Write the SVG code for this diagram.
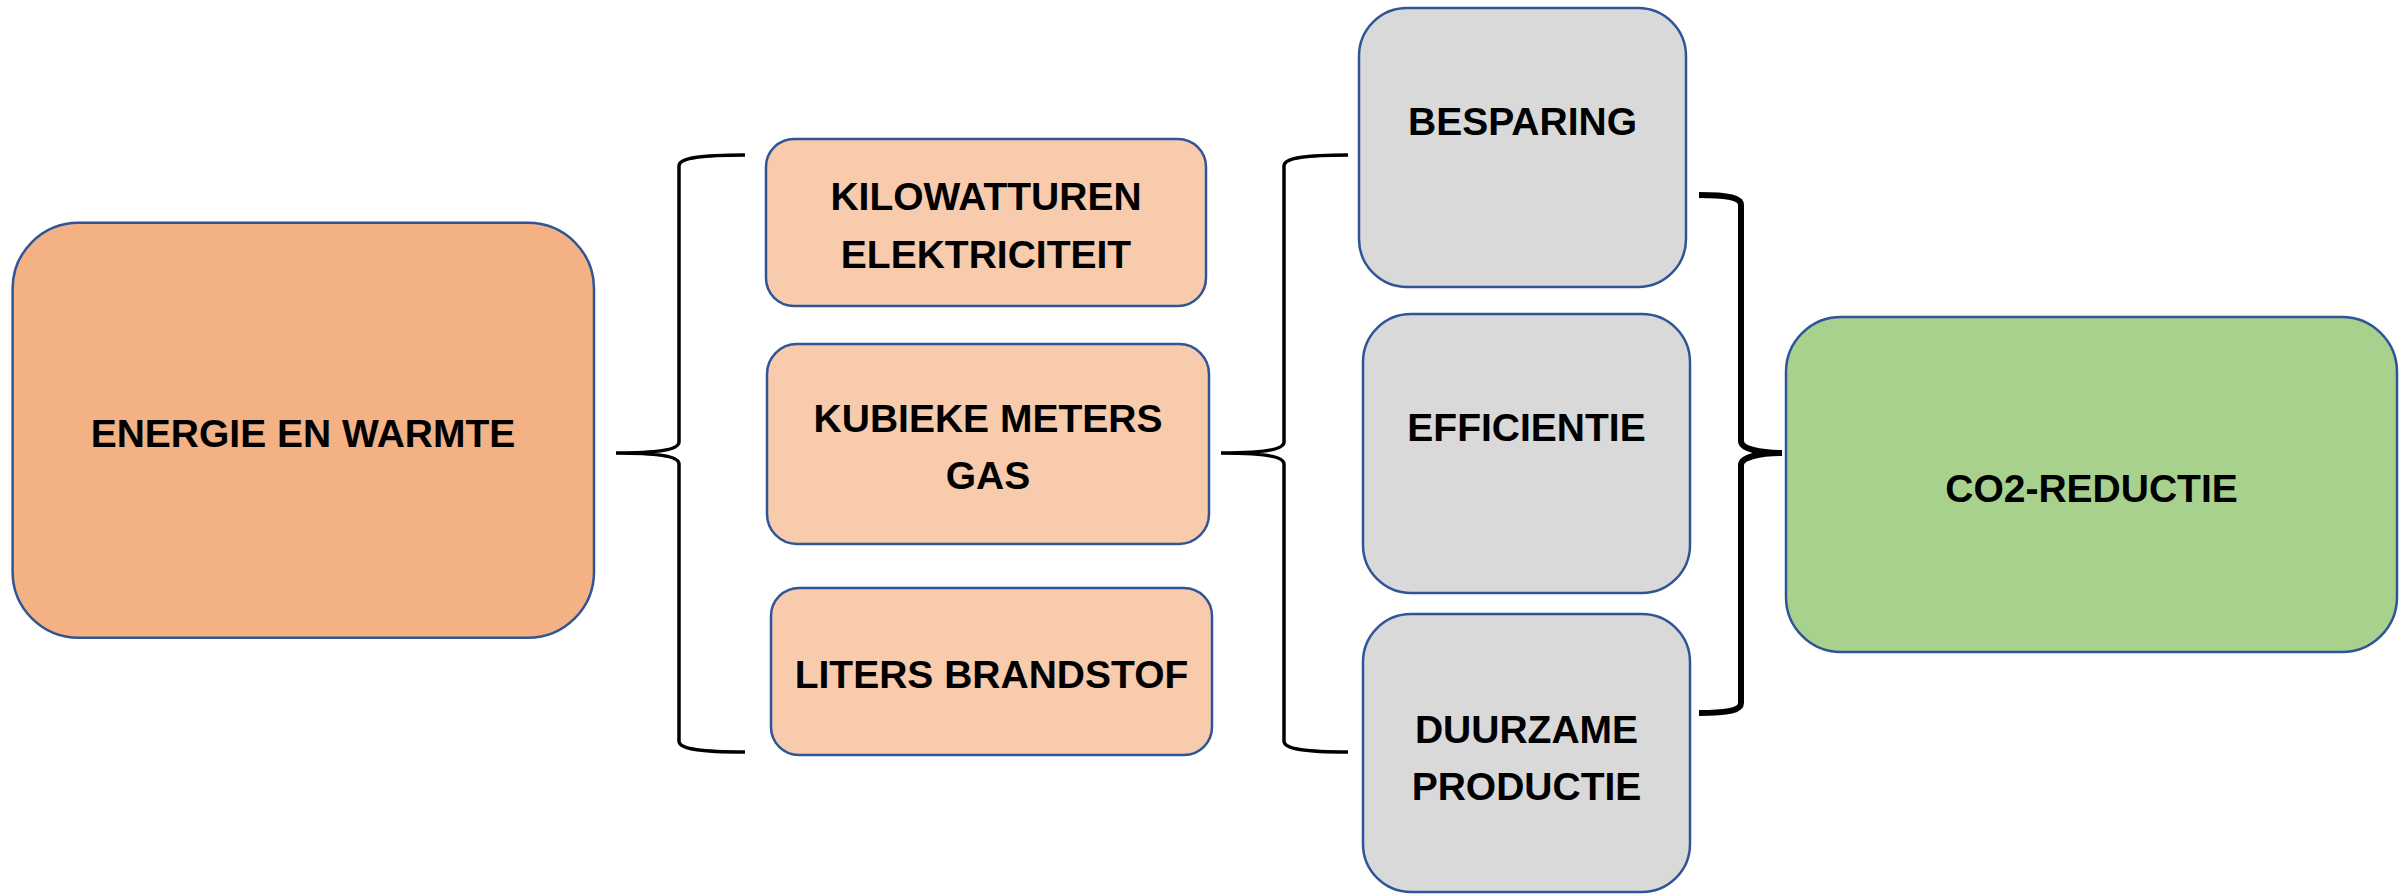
<svg xmlns="http://www.w3.org/2000/svg" width="2402" height="894" viewBox="0 0 2402 894">
<style>
.box{stroke:#2F5597;stroke-width:2.5}
.o1{fill:#F4B183}
.o2{fill:#F8CBAD}
.g{fill:#D9D9D9}
.gr{fill:#A9D18E}
text{font-family:"Liberation Sans",Arial,sans-serif;font-weight:bold;font-size:39px;fill:#000;text-anchor:middle}
.br{fill:none;stroke:#000;stroke-width:3.5}
.brk{fill:none;stroke:#000;stroke-width:6}
</style>
<rect width="2402" height="894" fill="#fff"/>
<g id="connectors">
<path class="br" d="M745,155 C700,155 679,158 679,166 L679,442 C679,450 655,453 616,453 C655,453 679,456 679,464 L679,741 C679,749 700,752 745,752"/>
<path class="br" d="M1348,155 C1305,155 1284,158 1284,166 L1284,442 C1284,450 1260,453 1221,453 C1260,453 1284,456 1284,464 L1284,741 C1284,749 1305,752 1348,752"/>
<path class="brk" d="M1699,195 C1730,195 1741,198 1741,205 L1741,441 C1741,449 1760,453 1782,453 C1760,453 1741,457 1741,465 L1741,703 C1741,710 1730,713 1699,713"/>
</g>
<g id="energie">
<rect class="box o1" x="12.6" y="222.7" width="581.4" height="415" rx="66"/>
<text x="303" y="446.7">ENERGIE EN WARMTE</text>
</g>
<g id="kilowatturen">
<rect class="box o2" x="766" y="139" width="440" height="167" rx="28"/>
<text x="986" y="209.5">KILOWATTUREN</text>
<text x="986" y="268">ELEKTRICITEIT</text>
</g>
<g id="kubieke">
<rect class="box o2" x="767" y="344" width="442" height="200" rx="30"/>
<text x="988" y="432">KUBIEKE METERS</text>
<text x="988" y="489">GAS</text>
</g>
<g id="liters">
<rect class="box o2" x="771" y="588" width="441" height="167" rx="28"/>
<text x="991.5" y="688">LITERS BRANDSTOF</text>
</g>
<g id="besparing">
<rect class="box g" x="1359" y="8" width="327" height="279" rx="48"/>
<text x="1522.5" y="135">BESPARING</text>
</g>
<g id="efficientie">
<rect class="box g" x="1363" y="314" width="327" height="279" rx="48"/>
<text x="1526.5" y="441">EFFICIENTIE</text>
</g>
<g id="duurzame">
<rect class="box g" x="1363" y="614" width="327" height="278" rx="48"/>
<text x="1526.5" y="742.5">DUURZAME</text>
<text x="1526.5" y="800">PRODUCTIE</text>
</g>
<g id="co2">
<rect class="box gr" x="1786" y="317" width="611" height="335" rx="55"/>
<text x="2091.5" y="501.5">CO2-REDUCTIE</text>
</g>
</svg>
